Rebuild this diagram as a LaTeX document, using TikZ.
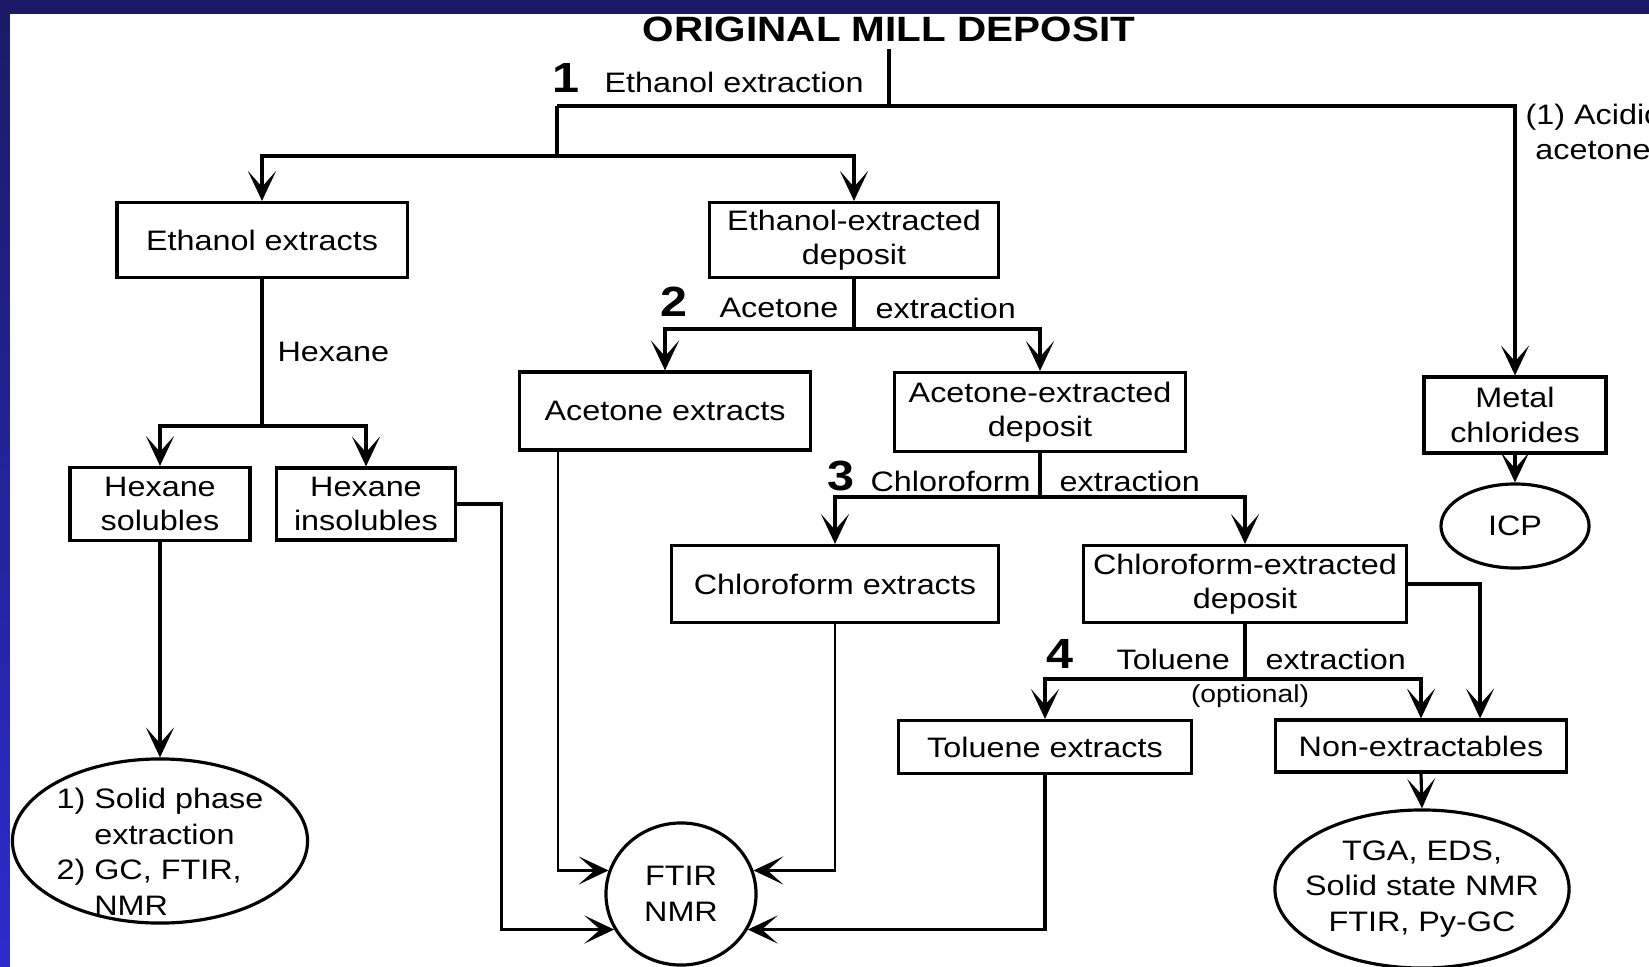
\documentclass[tikz,border=0pt]{standalone}
\usepackage{fontspec}
\setmainfont{Liberation Sans}[FakeStretch=1.15]
\usetikzlibrary{arrows.meta,shapes.geometric,positioning}
\definecolor{slidenavy}{RGB}{26,26,104}
\definecolor{slideblue}{RGB}{44,44,206}
\tikzstyle{fraction}=[draw,rectangle,line width=0.9pt,inner sep=0pt,align=center,font=\fontsize{8}{9.8}\selectfont]
\tikzstyle{analysis}=[draw,ellipse,line width=0.9pt,inner sep=0pt,align=center,font=\fontsize{8}{10.1}\selectfont]
\tikzstyle{steplbl}=[inner sep=0pt,anchor=west,font=\fontsize{8}{9.8}\selectfont]
\tikzstyle{stepnum}=[inner sep=0pt,font=\fontsize{12}{14}\selectfont\bfseries]
\tikzstyle{thinline}=[line width=0.6pt]

\begin{document}
\begin{tikzpicture}[x=0.01cm,y=-0.01cm,line width=0.9pt,>={Stealth[length=8.5pt,width=8pt,inset=4.5pt]}]
\useasboundingbox (0,0) rectangle (1649,967);
\clip (0,0) rectangle (1649,967);
% slide frame
\fill[slidenavy] (0,0) rectangle (1649,967);
\shade[top color=slidenavy,bottom color=slideblue] (0,0) rectangle (10,967);
\fill[white] (10,14) rectangle (1649,967);
% fractions
\node[font=\fontsize{10}{12}\selectfont\bfseries,inner sep=0.06cm] (title) at (889,29) {ORIGINAL MILL DEPOSIT};
\node[fraction,minimum width=2.9cm,minimum height=0.75cm] (ee) at (262,240) {Ethanol extracts};
\node[fraction,minimum width=2.89cm,minimum height=0.75cm] (ed) at (854,240) {Ethanol-extracted\\deposit};
\node[fraction,minimum width=1.8cm,minimum height=0.73cm] (hs) at (160,504) {Hexane\\solubles};
\node[fraction,minimum width=1.79cm,minimum height=0.72cm] (hi) at (366,504) {Hexane\\insolubles};
\node[fraction,minimum width=2.91cm,minimum height=0.78cm] (ax) at (665,411) {Acetone extracts};
\node[fraction,minimum width=2.91cm,minimum height=0.79cm] (ad) at (1040,412) {Acetone-extracted\\deposit};
\node[fraction,minimum width=3.27cm,minimum height=0.77cm] (cx) at (835,584) {Chloroform extracts};
\node[fraction,minimum width=3.23cm,minimum height=0.77cm] (cd) at (1245,584) {Chloroform-extracted\\deposit};
\node[fraction,minimum width=2.93cm,minimum height=0.53cm] (tx) at (1045,747) {Toluene extracts};
\node[fraction,minimum width=2.91cm,minimum height=0.52cm] (nx) at (1421,746) {Non-extractables};
\node[fraction,minimum width=1.82cm,minimum height=0.76cm] (mc) at (1515,415) {Metal\\chlorides};
% analyses
\node[analysis,minimum width=2.95cm,minimum height=1.64cm,inner ysep=-0.13cm,text height=26.2pt,text depth=14.2pt] (spe) at (160,841) {\begin{tabular}{@{}l@{ }l@{}}1)&Solid phase\\&extraction\\2)&GC, FTIR,\\&NMR\end{tabular}};
\node[analysis,minimum width=1.5cm,minimum height=1.42cm] (ftir) at (681,894) {FTIR\\NMR};
\node[analysis,minimum width=2.94cm,minimum height=1.58cm,inner xsep=-0.15cm] (tga) at (1422,889) {TGA, EDS,\\Solid state NMR\\FTIR, Py-GC};
\node[analysis,minimum width=1.48cm,minimum height=0.84cm] (icp) at (1515,526) {ICP};
% step labels
\node[stepnum] (s1) at (566,78) {1};
\node[steplbl] (l1) at (603,82) {Ethanol extraction};
\node[steplbl] (hex) at (276,352) {Hexane};
\node[stepnum] (s2) at (674,302) {2};
\node[steplbl] (l2a) at (718,308) {Acetone};
\node[steplbl] (l2b) at (874,308) {extraction};
\node[stepnum] (s3) at (841,476) {3};
\node[steplbl] (l3a) at (869,481) {Chloroform};
\node[steplbl] (l3b) at (1058,481) {extraction};
\node[stepnum] (s4) at (1060,654) {4};
\node[steplbl] (l4a) at (1115,659) {Toluene};
\node[steplbl] (l4b) at (1264,659) {extraction};
\node[font=\fontsize{7}{8}\selectfont,inner sep=0pt] (opt) at (1250,696) {(optional)};
\node[steplbl,align=center] (acid) at (1524,132) {(1) Acidic\\acetone};
% step 1
\coordinate (t1) at (557,106);
\coordinate (t2) at (557,156);
\draw (title.south) |- (t1);
\draw[->] (t1) -| (mc.north);
\draw (t1) -- (t2);
\draw[->] (t2) -| (ee.north);
\draw[->] (t2) -| (ed.north);
\draw[->] (mc.south) -- (icp.north);
% hexane
\coordinate (h1) at (262,426);
\draw (ee.south) -- (h1);
\draw[->] (h1) -| (hs.north);
\draw[->] (h1) -| (hi.north);
\draw[->] (hs.south) -- (spe.north);
% step 2
\coordinate (a1) at (854,329);
\draw (ed.south) -- (a1);
\draw[->] (a1) -| (ax.north);
\draw[->] (a1) -| (ad.north);
% step 3
\coordinate (c1) at (1040,497);
\draw (ad.south) -- (c1);
\draw[->] (c1) -| (cx.north);
\draw[->] (c1) -| (cd.north);
% step 4
\coordinate (k1) at (1245,679);
\draw (cd.south) -- (k1);
\draw[->] (k1) -| (tx.north);
\draw[->] (k1) -| (nx.north);
\draw[->] (cd.east) -| ([xshift=0.59cm]nx.north);
\draw[->] (nx.south) -- (tga.north);
% to FTIR/NMR
\draw[->] (hi.east) -- ++(44,0) |- (ftir.208);
\draw[->,thinline] ([xshift=-1.07cm]ax.south) |- (ftir.162);
\draw[->,thinline] (cx.south) |- (ftir.18);
\draw[->] (tx.south) |- (ftir.332);
\end{tikzpicture}
\end{document}
